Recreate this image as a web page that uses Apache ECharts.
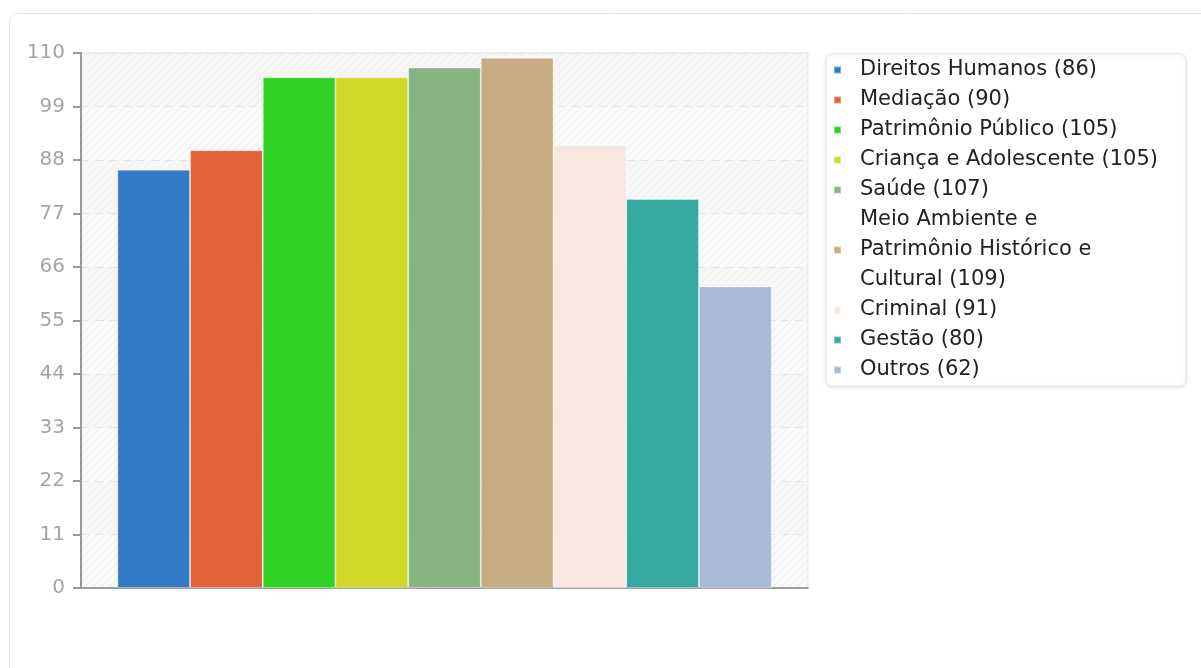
<!DOCTYPE html>
<html><head><meta charset="utf-8">
<script src="https://cdn.jsdelivr.net/npm/echarts@6/dist/echarts.min.js"></script>
<style>html,body{margin:0;padding:0;background:#fff}#c{width:1201px;height:668px}</style>
</head><body><div id="c"></div>
<script>
const categories = ['Total'];
const seriesNames = ['Direitos Humanos (86)','Mediação (90)','Patrimônio Público (105)','Criança e Adolescente (105)','Saúde (107)','Meio Ambiente e Patrimônio Histórico e Cultural (109)','Criminal (91)','Gestão (80)','Outros (62)'];
const legendLabels = ['Direitos Humanos (86)','Mediação (90)','Patrimônio Público (105)','Criança e Adolescente (105)','Saúde (107)','Meio Ambiente e\nPatrimônio Histórico e\nCultural (109)','Criminal (91)','Gestão (80)','Outros (62)'];
const seriesValues = [86, 90, 105, 105, 107, 109, 91, 80, 62];
const seriesColors = ['#337ac7','#e2623a','#2fd223','#cfd826','#86b37f','#c6ac82','#f8e7de','#35a9a0','#a8b8d6'];
const yTicks = {min:0, max:110, interval:11};

const pc = document.createElement('canvas');
pc.width = 8; pc.height = 8;
const g = pc.getContext('2d');
g.fillStyle = '#fafafa'; g.fillRect(0,0,8,8);
g.strokeStyle = '#ececec'; g.lineWidth = 1;
g.beginPath(); g.moveTo(0,8); g.lineTo(8,0); g.moveTo(-4,4); g.lineTo(4,-4); g.moveTo(4,12); g.lineTo(12,4); g.stroke();

const chart = echarts.init(document.getElementById('c'));
chart.setOption({
  animation:false,
  graphic:[{type:'rect', left:7, top:11, shape:{width:1220, height:700, r:8}, style:{fill:'none', stroke:'#e4e4e4', lineWidth:1}, z:-10}],
  grid:{left:81, top:53, width:727, height:535, show:true, backgroundColor:{image:pc, repeat:'repeat'}, borderColor:'#e2e2e2', borderWidth:1},
  legend:{
    orient:'vertical', left:826, top:54, padding:[1,28,1,7],
    backgroundColor:'#fff', borderColor:'#e8e8e8', borderWidth:1, borderRadius:6,
    shadowColor:'rgba(0,0,0,0.12)', shadowBlur:4, shadowOffsetY:1,
    icon:'rect', itemWidth:7, itemHeight:7, itemGap:0,
    formatter: name => legendLabels[seriesNames.indexOf(name)],
    textStyle:{fontFamily:'DejaVu Sans', fontSize:21, color:'#222', lineHeight:30, padding:[0,0,0,14]},
    data:seriesNames
  },
  xAxis:{type:'category', data:categories, axisLabel:{show:false}, axisTick:{show:false},
    axisLine:{lineStyle:{color:'#888', width:1.5}}},
  yAxis:{type:'value', min:yTicks.min, max:yTicks.max, interval:yTicks.interval,
    axisLine:{show:true, lineStyle:{color:'#999', width:2}},
    axisTick:{show:true, length:8, lineStyle:{color:'#999', width:2}},
    axisLabel:{color:'#a4a4a4', fontFamily:'DejaVu Sans', fontSize:20, margin:16},
    splitLine:{show:true, lineStyle:{color:'#e4e4e4', type:[8,6]}},
    splitArea:{show:true, areaStyle:{color:['rgba(255,255,255,0)','rgba(240,240,240,0.35)']}}},
  series: seriesNames.map((n,i)=>({
    name:n, type:'bar', barGap:'0%', barCategoryGap:'10%',
    itemStyle:{color:seriesColors[i], borderColor:'rgba(255,255,255,0.35)', borderWidth:1},
    data:[seriesValues[i]]
  }))
});
</script></body></html>
